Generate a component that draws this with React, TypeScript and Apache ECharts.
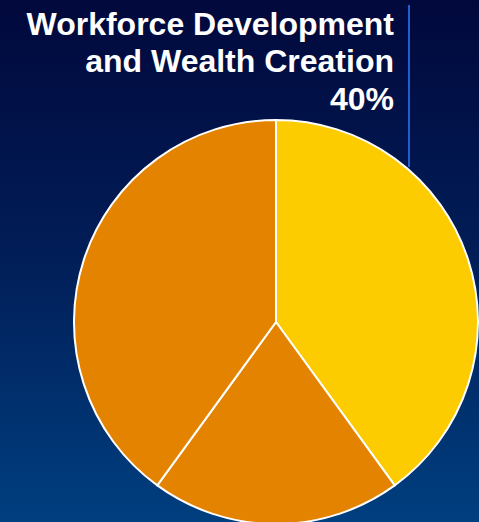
import React, { useEffect, useRef } from "react";
import * as echarts from "echarts";

const categories = ["Workforce Development\nand Wealth Creation", "Other A", "Other B"];
const values = [40, 20, 40];
const colors = ["#fccb00", "#e38300", "#e38300"];
const labelText = `${categories[0]}\n${values[0]}%`;

export default function App() {
  const ref = useRef<HTMLDivElement>(null);
  useEffect(() => {
    const chart = echarts.init(ref.current!, null, { renderer: "svg" });
    chart.setOption({
      animation: false,
      backgroundColor: {
        type: "linear",
        x: 0,
        y: 0,
        x2: 0,
        y2: 1,
        colorStops: [
          { offset: 0, color: "#01083c" },
          { offset: 0.5, color: "#011e58" },
          { offset: 1, color: "#003f80" },
        ],
      },
      series: [
        {
          type: "pie",
          center: [276, 322],
          radius: 202,
          startAngle: 90,
          clockwise: true,
          label: { show: false },
          labelLine: { show: false },
          silent: true,
          itemStyle: { borderColor: "#ffffff", borderWidth: 2 },
          data: values.map((v, i) => ({
            value: v,
            name: categories[i],
            itemStyle: { color: colors[i] },
          })),
        },
      ],
      graphic: [
        {
          type: "line",
          shape: { x1: 409, y1: 5, x2: 409, y2: 167 },
          style: { stroke: "#1f5fd0", lineWidth: 2 },
        },
        {
          type: "text",
          x: 394,
          y: 61,
          style: {
            text: labelText,
            fill: "#ffffff",
            font: "bold 32px 'Liberation Sans', Arial, sans-serif",
            align: "right",
            verticalAlign: "middle",
            lineHeight: 37.5,
          },
        },
      ],
    });
    return () => chart.dispose();
  }, []);
  return (
    <div
      ref={ref}
      style={{ position: "absolute", left: 0, top: 0, width: 479, height: 522 }}
    />
  );
}
